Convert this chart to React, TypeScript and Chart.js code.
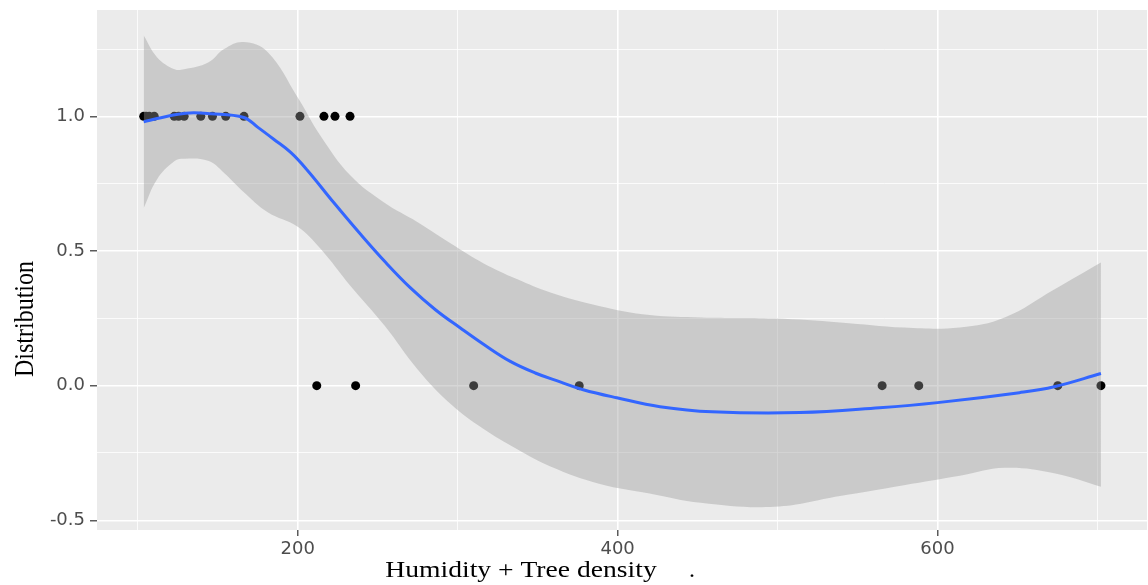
import React, { useEffect, useRef } from "react";
import { Chart, registerables } from "chart.js";

Chart.register(...registerables);

// ---- Data ----
const pointsY1X = [103.7, 105.2, 107.2, 110.3, 122.8, 125.5, 129, 139.4, 146.7, 155, 166.4, 201.4, 216.4, 223.3, 232.7];
const pointsY0X = [211.9, 236.2, 310, 376, 565.4, 588.3, 675.2, 702.2];

const smoothX = [103.7, 114.5, 130, 145.7, 166.3, 174.9, 185, 195.6, 206, 222.5, 239.3, 254.9, 270.5, 286.1, 301.7, 317.3, 332.9, 348.5, 364.1, 378.5, 399.5, 426.5, 459, 513.9, 563.8, 600, 651.2, 673, 702.2];
const smoothY = [0.98, 0.995, 1.012, 1.01, 0.996, 0.96, 0.915, 0.866, 0.8, 0.68, 0.562, 0.458, 0.363, 0.282, 0.214, 0.149, 0.09, 0.047, 0.014, -0.015, -0.045, -0.078, -0.097, -0.1, -0.082, -0.063, -0.026, -0.004, 0.045];

const bandX = [103.7, 112, 123, 129, 144, 154, 166, 181, 200, 214, 233, 254, 275, 296, 316, 337, 358, 389, 420, 452, 498, 539, 579, 614, 642, 673, 702.2];
const bandUpper = [1.3, 1.22, 1.175, 1.175, 1.2, 1.25, 1.276, 1.24, 1.07, 0.93, 0.78, 0.68, 0.607, 0.527, 0.455, 0.396, 0.346, 0.295, 0.262, 0.253, 0.249, 0.235, 0.216, 0.216, 0.253, 0.357, 0.457];
const bandLower = [0.66, 0.766, 0.834, 0.843, 0.835, 0.79, 0.72, 0.645, 0.59, 0.51, 0.37, 0.225, 0.06, -0.07, -0.16, -0.235, -0.3, -0.365, -0.4, -0.435, -0.45, -0.41, -0.37, -0.335, -0.305, -0.325, -0.375];

const xMajorTicks = [200, 400, 600];
const xMinorTicks = [100, 300, 500, 700];
const yMajorTicks = [-0.5, 0, 0.5, 1.0];
const yMinorTicks = [-0.25, 0.25, 0.75, 1.25];

const xTitle = "Humidity + Tree density";
const yTitle = "Distribution";

const isMajor = (list: number[], v: number) => list.some((m) => Math.abs(m - v) < 1e-9);

export default function App() {
  const ref = useRef<HTMLCanvasElement | null>(null);

  useEffect(() => {
    if (!ref.current) return;

    const panelBg = {
      id: "panelBg",
      beforeDraw(chart: any) {
        const { ctx, chartArea } = chart;
        ctx.save();
        ctx.fillStyle = "#EBEBEB";
        ctx.fillRect(chartArea.left, chartArea.top, chartArea.right - chartArea.left, chartArea.bottom - chartArea.top);
        ctx.restore();
      },
    };

    const titles = {
      id: "titles",
      afterDraw(chart: any) {
        const ctx = chart.ctx;
        ctx.save();
        ctx.fillStyle = "#000000";
        ctx.font = '24px "Liberation Serif"';
        ctx.textAlign = "center";
        ctx.textBaseline = "alphabetic";
        ctx.save();
        ctx.translate(521, 577);
        ctx.scale(1.15, 1);
        ctx.fillText(xTitle, 0, 0);
        ctx.restore();
        ctx.save();
        ctx.translate(692, 577);
        ctx.fillText(".", 0, 0);
        ctx.restore();
        ctx.save();
        ctx.translate(33, 319);
        ctx.rotate(-Math.PI / 2);
        ctx.scale(1, 1.15);
        ctx.fillText(yTitle, 0, 0);
        ctx.restore();
        ctx.restore();
      },
    };

    const chart = new Chart(ref.current, {
      type: "scatter",
      data: {
        datasets: [
          {
            label: "points",
            data: [
              ...pointsY1X.map((x) => ({ x, y: 1 })),
              ...pointsY0X.map((x) => ({ x, y: 0 })),
            ],
            backgroundColor: "#000000",
            borderWidth: 0,
            pointRadius: 4.5,
            order: 3,
          },
          {
            label: "upper",
            type: "line",
            data: bandX.map((x, i) => ({ x, y: bandUpper[i] })),
            borderWidth: 0,
            borderColor: "rgba(0,0,0,0)",
            backgroundColor: "rgba(153,153,153,0.4)",
            pointRadius: 0,
            tension: 0.4,
            fill: "+1",
            order: 2,
          },
          {
            label: "lower",
            type: "line",
            data: bandX.map((x, i) => ({ x, y: bandLower[i] })),
            borderWidth: 0,
            borderColor: "rgba(0,0,0,0)",
            pointRadius: 0,
            tension: 0.4,
            fill: false,
            order: 2,
          },
          {
            label: "smooth",
            type: "line",
            data: smoothX.map((x, i) => ({ x, y: smoothY[i] })),
            borderColor: "#3366FF",
            borderWidth: 3,
            pointRadius: 0,
            tension: 0.4,
            fill: false,
            order: 1,
          },
        ],
      } as any,
      options: {
        responsive: false,
        animation: false,
        events: [],
        layout: { autoPadding: false, padding: { left: 0, right: 1, top: 10, bottom: 0 } },
        plugins: {
          legend: { display: false },
          tooltip: { enabled: false },
        },
        scales: {
          x: {
            type: "linear",
            min: 74.5,
            max: 731,
            afterBuildTicks(scale: any) {
              scale.ticks = [...xMinorTicks, ...xMajorTicks].sort((a, b) => a - b).map((v) => ({ value: v }));
            },
            afterFit(scale: any) {
              scale.height = 55;
              scale.paddingLeft = 0;
              scale.paddingRight = 0;
              scale.paddingTop = 0;
              scale.paddingBottom = 0;
            },
            border: { display: false },
            grid: {
              color: "#FFFFFF",
              lineWidth: (c: any) => (isMajor(xMajorTicks, c.tick?.value) ? 1.6 : 0.8),
              tickColor: (c: any) => (isMajor(xMajorTicks, c.tick?.value) ? "#333333" : "rgba(0,0,0,0)"),
              tickLength: 6,
              tickWidth: 1.2,
            },
            ticks: {
              autoSkip: false,
              maxRotation: 0,
              padding: 3,
              color: "#4D4D4D",
              font: { family: '"DejaVu Sans"', size: 18 },
              callback: (v: any) => (isMajor(xMajorTicks, Number(v)) ? String(v) : ""),
            },
          },
          y: {
            type: "linear",
            min: -0.536,
            max: 1.395,
            afterBuildTicks(scale: any) {
              scale.ticks = [...yMinorTicks, ...yMajorTicks].sort((a, b) => a - b).map((v) => ({ value: v }));
            },
            afterFit(scale: any) {
              scale.width = 97;
              scale.paddingLeft = 0;
              scale.paddingRight = 0;
              scale.paddingTop = 0;
              scale.paddingBottom = 0;
            },
            border: { display: false },
            grid: {
              color: "#FFFFFF",
              lineWidth: (c: any) => (isMajor(yMajorTicks, c.tick?.value) ? 1.6 : 0.8),
              tickColor: (c: any) => (isMajor(yMajorTicks, c.tick?.value) ? "#333333" : "rgba(0,0,0,0)"),
              tickLength: 7,
              tickWidth: 1.2,
            },
            ticks: {
              autoSkip: false,
              padding: 5,
              color: "#4D4D4D",
              font: { family: '"DejaVu Sans"', size: 18 },
              callback: (v: any) => (isMajor(yMajorTicks, Number(v)) ? Number(v).toFixed(1) : ""),
            },
          },
        },
      } as any,
      plugins: [panelBg, titles],
    });

    return () => chart.destroy();
  }, []);

  return (
    <div style={{ position: "absolute", left: 0, top: 0, width: 1148, height: 585, background: "#FFFFFF" }}>
      <canvas ref={ref} width={1148} height={585} />
    </div>
  );
}
